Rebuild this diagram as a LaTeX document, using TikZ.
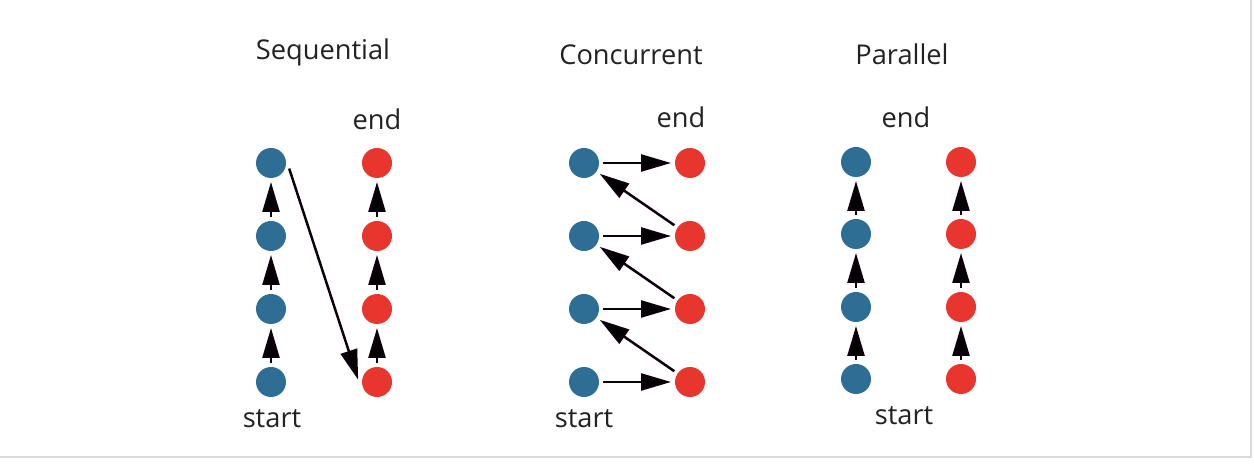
\documentclass[tikz,border=0pt]{standalone}
\usepackage{fontspec}
\setmainfont{Open Sans}
\usetikzlibrary{arrows.meta}
\definecolor{dotblue}{HTML}{2E6E95}
\definecolor{dotred}{HTML}{E8362E}
\definecolor{txtgray}{HTML}{222222}
\begin{document}
\begin{tikzpicture}[
    bluedot/.style={circle, fill=dotblue, minimum size=0.6cm, inner sep=0pt, outer sep=0.08cm},
    reddot/.style={circle, fill=dotred, minimum size=0.6cm, inner sep=0pt, outer sep=0.08cm},
    arr/.style={-{Triangle[length=6mm, width=3.4mm, fill=black]}, line width=0.5mm, draw=black!90!violet},
    lbl/.style={anchor=base, text=txtgray, inner sep=0pt, font=\fontsize{15.5}{18}\selectfont}
]
    \useasboundingbox (0,0) rectangle (25.08,9.36);
    \draw[black!15, line width=0.4mm] (0,0.22) -- (25.02,0.22) -- (25.02,9.36);

    % Titel
    \node[lbl] (tseq) at (6.46,8.16) {Sequential};
    \node[lbl] (tcon) at (12.62,8.06) {Concurrent};
    \node[lbl] (tpar) at (18.04,8.06) {Parallel};

    % Sequential
    \node[bluedot] (s-b1) at (5.42,1.72) {};
    \node[bluedot] (s-b2) at (5.42,3.18) {};
    \node[bluedot] (s-b3) at (5.42,4.64) {};
    \node[bluedot] (s-b4) at (5.42,6.10) {};
    \node[reddot] (s-r1) at (7.54,1.72) {};
    \node[reddot] (s-r2) at (7.54,3.18) {};
    \node[reddot] (s-r3) at (7.54,4.64) {};
    \node[reddot] (s-r4) at (7.54,6.10) {};
    \node[lbl] (s-start) at (5.44,0.80) {start};
    \node[lbl] (s-end) at (7.54,6.76) {end};

    % Concurrent
    \node[bluedot] (c-b1) at (11.68,1.72) {};
    \node[bluedot] (c-b2) at (11.68,3.18) {};
    \node[bluedot] (c-b3) at (11.68,4.64) {};
    \node[bluedot] (c-b4) at (11.68,6.10) {};
    \node[reddot] (c-r1) at (13.80,1.72) {};
    \node[reddot] (c-r2) at (13.80,3.18) {};
    \node[reddot] (c-r3) at (13.80,4.64) {};
    \node[reddot] (c-r4) at (13.80,6.10) {};
    \node[lbl] (c-start) at (11.68,0.80) {start};
    \node[lbl] (c-end) at (13.62,6.80) {end};

    % Parallel
    \node[bluedot] (p-b1) at (17.12,1.78) {};
    \node[bluedot] (p-b2) at (17.12,3.22) {};
    \node[bluedot] (p-b3) at (17.12,4.68) {};
    \node[bluedot] (p-b4) at (17.12,6.12) {};
    \node[reddot] (p-r1) at (19.22,1.78) {};
    \node[reddot] (p-r2) at (19.22,3.22) {};
    \node[reddot] (p-r3) at (19.22,4.68) {};
    \node[reddot] (p-r4) at (19.22,6.12) {};
    \node[lbl] (p-start) at (18.08,0.86) {start};
    \node[lbl] (p-end) at (18.12,6.80) {end};

    % Verbindungen
    \draw[arr] (s-b1) -- (s-b2);
    \draw[arr] (s-b2) -- (s-b3);
    \draw[arr] (s-b3) -- (s-b4);
    \draw[arr] (s-b4.-17) -- (s-r1.173);
    \draw[arr] (s-r1) -- (s-r2);
    \draw[arr] (s-r2) -- (s-r3);
    \draw[arr] (s-r3) -- (s-r4);

    \draw[arr] (c-b1) -- (c-r1);
    \draw[arr] (c-r1) -- (c-b2);
    \draw[arr] (c-b2) -- (c-r2);
    \draw[arr] (c-r2) -- (c-b3);
    \draw[arr] (c-b3) -- (c-r3);
    \draw[arr] (c-r3) -- (c-b4);
    \draw[arr] (c-b4) -- (c-r4);

    \draw[arr] (p-b1) -- (p-b2);
    \draw[arr] (p-b2) -- (p-b3);
    \draw[arr] (p-b3) -- (p-b4);
    \draw[arr] (p-r1) -- (p-r2);
    \draw[arr] (p-r2) -- (p-r3);
    \draw[arr] (p-r3) -- (p-r4);
\end{tikzpicture}
\end{document}
